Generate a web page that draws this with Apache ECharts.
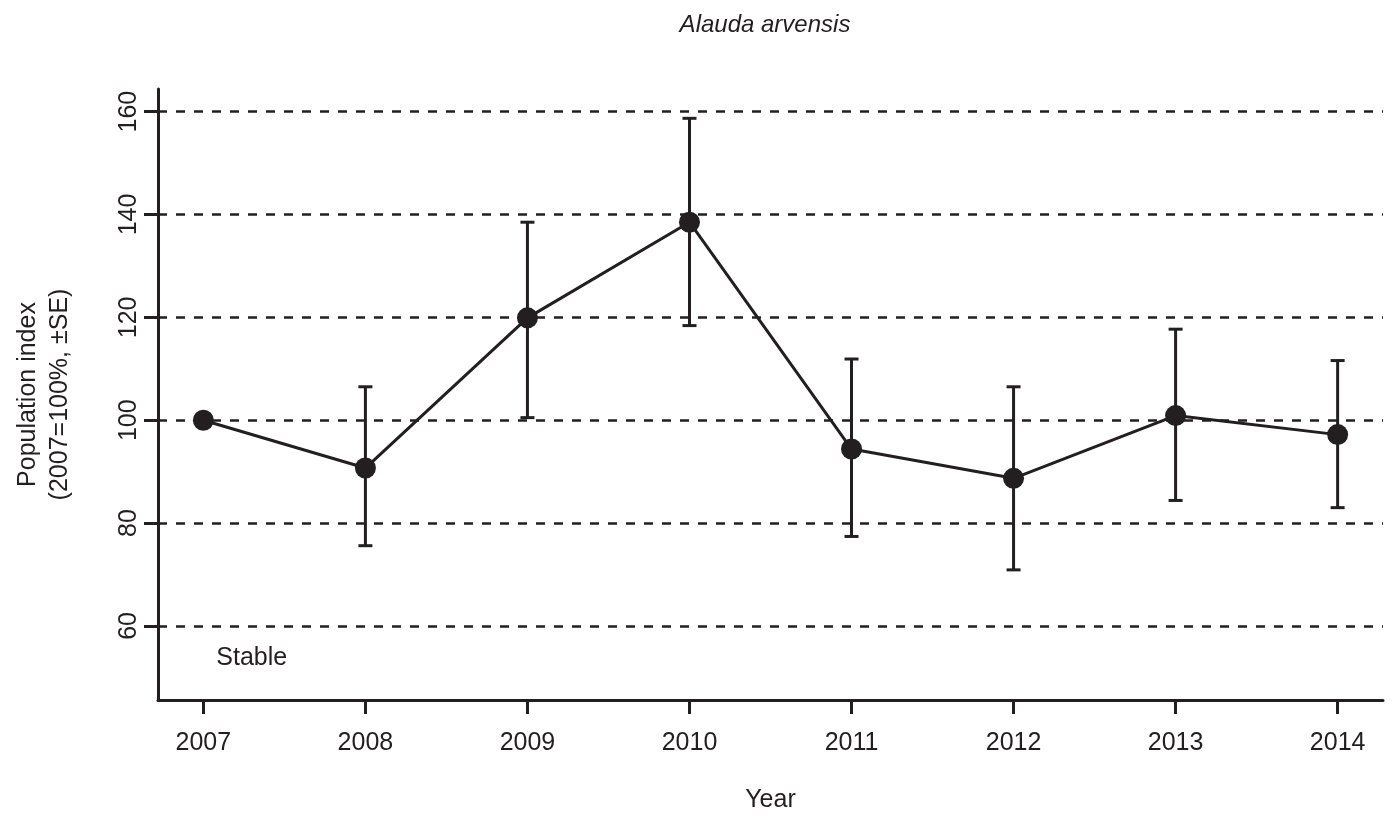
<!DOCTYPE html>
<html>
<head>
<meta charset="utf-8">
<script src="https://cdn.jsdelivr.net/npm/echarts@6/dist/echarts.min.js"></script>
<style>
html,body{margin:0;padding:0;background:#fff;}
#chart{width:1392px;height:817px;}
</style>
</head>
<body>
<div id="chart"></div>
<script>
// ---- data ----
const years = [2007, 2008, 2009, 2010, 2011, 2012, 2013, 2014];
const indexValues = [100, 90.7, 119.9, 138.5, 94.4, 88.7, 100.9, 97.2];
const upperSE = [null, 106.5, 138.5, 158.7, 111.9, 106.5, 117.7, 111.6];
const lowerSE = [null, 75.6, 100.5, 118.4, 77.4, 70.9, 84.4, 83.0];
const yTicks = [60, 80, 100, 120, 140, 160];
const titleText = 'Alauda arvensis';
const xTitle = 'Year';
const yTitle = 'Population index\n(2007=100%, \u00b1SE)';
const noteText = 'Stable';

const INK = '#231f20';
const FONT = '"Liberation Sans Narrow", "Liberation Sans", sans-serif';

const chart = echarts.init(document.getElementById('chart'), null, {renderer: 'canvas'});

const lineData = years.map((y, i) => [y, indexValues[i]]);
const errData = years.map((y, i) => [y, lowerSE[i], upperSE[i]]).filter(d => d[1] != null);

const option = {
  backgroundColor: '#ffffff',
  animation: false,
  title: {
    text: titleText,
    left: 760,
    top: 8,
    textAlign: 'center',
    textStyle: {fontFamily: FONT, fontStyle: 'italic', fontWeight: 'normal', fontSize: 24, color: INK}
  },
  grid: {left: 158, right: 9, top: 89, bottom: 117, outerBoundsMode: 'none', containLabel: false},
  xAxis: {
    type: 'value',
    min: 2006.72,
    max: 2014.28,
    name: xTitle,
    nameLocation: 'middle',
    nameGap: 88,
    nameTextStyle: {fontFamily: FONT, fontSize: 25, color: INK},
    axisLine: {show: true, lineStyle: {color: INK, width: 3}},
    axisTick: {show: true, customValues: years, length: 14, lineStyle: {color: INK, width: 3}},
    axisLabel: {customValues: years, margin: 31, fontFamily: FONT, fontSize: 25, color: INK, formatter: v => String(v)},
    splitLine: {show: false}
  },
  yAxis: {
    type: 'value',
    min: 45.6,
    max: 164.4,
    name: yTitle,
    nameLocation: 'middle',
    nameRotate: 90,
    nameGap: 82,
    nameTextStyle: {fontFamily: FONT, fontSize: 25, color: INK, lineHeight: 32},
    axisLine: {show: true, lineStyle: {color: INK, width: 3}},
    axisTick: {show: true, customValues: yTicks, length: 14, lineStyle: {color: INK, width: 3}},
    axisLabel: {customValues: yTicks, rotate: 90, margin: 16, fontFamily: FONT, fontSize: 25, color: INK},
    splitLine: {show: false}
  },
  series: [
    {
      type: 'custom',
      z: 2,
      data: errData,
      renderItem: function (params, api) {
        const x = api.value(0);
        const lo = api.coord([x, api.value(1)]);
        const hi = api.coord([x, api.value(2)]);
        const cap = 7;
        const st = {stroke: INK, lineWidth: 3};
        return {
          type: 'group',
          children: [
            {type: 'line', shape: {x1: lo[0], y1: lo[1], x2: hi[0], y2: hi[1]}, style: st},
            {type: 'line', shape: {x1: hi[0] - cap, y1: hi[1], x2: hi[0] + cap, y2: hi[1]}, style: st},
            {type: 'line', shape: {x1: lo[0] - cap, y1: lo[1], x2: lo[0] + cap, y2: lo[1]}, style: st}
          ]
        };
      },
      markLine: {
        silent: true,
        symbol: 'none',
        label: {show: false},
        lineStyle: {color: INK, width: 2.5, type: [9, 9]},
        data: yTicks.map(v => ({yAxis: v}))
      }
    },
    {
      type: 'line',
      z: 3,
      data: lineData,
      symbol: 'circle',
      symbolSize: 21,
      itemStyle: {color: INK},
      lineStyle: {color: INK, width: 3},
      markPoint: {
        silent: true,
        symbol: 'circle',
        symbolSize: 0,
        data: [{coord: [2007.08, 53.7], value: noteText}],
        label: {show: true, position: 'right', distance: 0, formatter: noteText, fontFamily: FONT, fontSize: 25, color: INK}
      }
    }
  ]
};
chart.setOption(option);
</script>
</body>
</html>
